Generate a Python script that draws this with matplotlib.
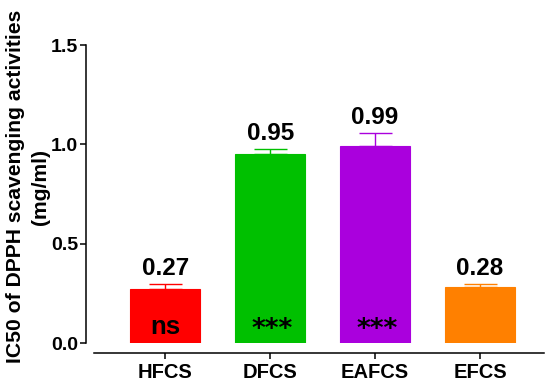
import matplotlib
matplotlib.use("Agg")
import matplotlib.pyplot as plt

plt.rcParams['font.family'] = ['Liberation Sans', 'DejaVu Sans']
plt.rcParams['font.weight'] = 'bold'

categories = ["HFCS", "DFCS", "EAFCS", "EFCS"]
ic50 = [0.27, 0.95, 0.99, 0.28]
sem = [0.027, 0.025, 0.065, 0.017]
significance = ["ns", "***", "***", ""]
colors = ["#FF0000", "#00C000", "#AA00DD", "#FF8000"]
yticks = [0.0, 0.5, 1.0, 1.5]

W, H = 545, 385
PX = 72 / 100  # points per pixel at 100 dpi
fig = plt.figure(figsize=(W / 100, H / 100), dpi=100)
ax = fig.add_axes([94 / W, 42 / H, (544 - 94) / W, (343 - 45) / H])

x = list(range(len(categories)))
ax.bar(x, ic50, width=0.667, color=colors, edgecolor=colors, linewidth=0.8, zorder=2)
for xi, v, e, c in zip(x, ic50, sem, colors):
    ax.errorbar(xi, v, yerr=[[0], [e]], fmt='none', ecolor=c, elinewidth=1.0,
                capsize=16.5 * PX, capthick=1.0, zorder=1)
    ax.text(xi, v + e + 0.045, f"{v:.2f}", ha='center', va='baseline',
            fontsize=17.5, fontweight='bold')
for xi, s in zip(x, significance):
    if s == "ns":
        ax.text(xi, 0.08, s, ha='center', va='center', fontsize=18.5, fontweight='bold')
    elif s:
        ax.text(xi + 0.02, 0.065, s, ha='center', va='center', fontsize=19,
                fontweight='bold', family='DejaVu Sans')

ax.set_xlim(-0.68, 3.61)
ax.set_ylim(0, 1.5)
ax.set_yticks(yticks)
ax.set_yticklabels([f"{t:.1f}" for t in yticks])
ax.set_xticks(x)
ax.set_xticklabels(categories)

for side in ('top', 'right'):
    ax.spines[side].set_visible(False)
ax.spines['left'].set_position(('outward', 8 * PX))
ax.spines['bottom'].set_position(('outward', 9.5 * PX))
for side in ('left', 'bottom'):
    ax.spines[side].set_linewidth(1.1)
ax.tick_params(axis='both', width=1.1, length=6 * PX, labelsize=14, pad=1.5)
ax.tick_params(axis='x', labelsize=14.5, pad=3)
for lbl in ax.get_xticklabels() + ax.get_yticklabels():
    lbl.set_fontweight('bold')

ax.set_ylabel("IC50 of DPPH scavenging activities\n(mg/ml)", fontsize=15.2,
              fontweight='bold', linespacing=1.4)
ax.yaxis.set_label_coords((50 - 94) / 450, 0.525)

fig.savefig("out.png", dpi=100)
